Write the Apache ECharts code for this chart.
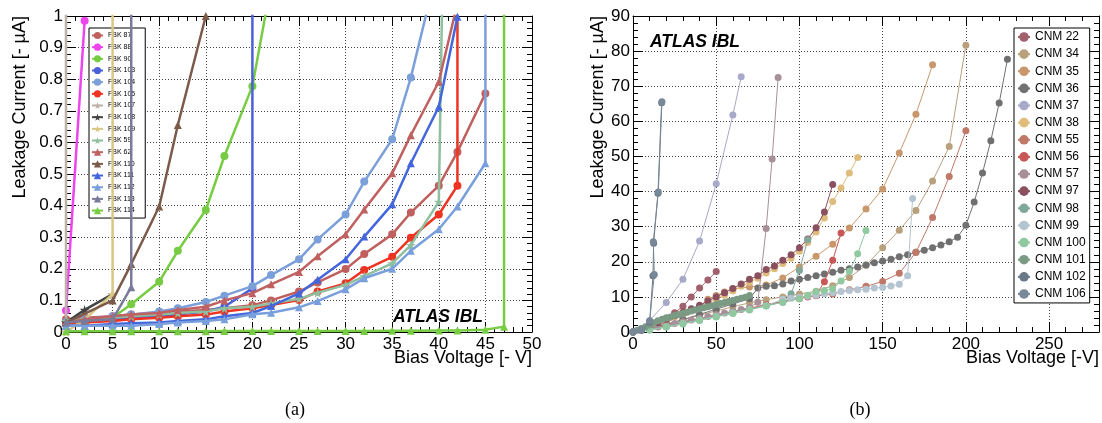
<!DOCTYPE html>
<html><head><meta charset="utf-8">
<script src="https://cdn.jsdelivr.net/npm/echarts@6/dist/echarts.min.js"></script>
<style>html,body{margin:0;padding:0;background:#fff}#c{width:1102px;height:423px}</style>
</head><body><div id="c"></div>
<script>
// ---------- Panel (a): FBK sensors, [bias V, leakage µA] ----------
const fbk87  = [[0,0.04],[2,0.045],[5,0.05],[7,0.055],[10,0.06],[12,0.065],[15,0.07],[17,0.075],[20,0.085],[22,0.1],[25,0.128],[27,0.157],[30,0.199],[32,0.247],[35,0.309],[37,0.378],[40,0.463],[42,0.57],[45,0.755]];
const fbk88  = [[0,0.068],[2,0.985]];
const fbk90  = [[0,0.03],[2,0.035],[5,0.045],[7,0.088],[10,0.159],[12,0.257],[15,0.386],[17,0.557],[20,0.778],[22,1.1]];
const fbk103 = [[0,0.03],[2,0.035],[5,0.04],[7,0.045],[10,0.05],[12,0.055],[15,0.065],[17,0.08],[20,0.138],[20,1.3]];
const fbk104 = [[0,0.03],[2,0.04],[5,0.05],[7,0.055],[10,0.065],[12,0.075],[15,0.095],[17,0.115],[20,0.145],[22,0.18],[25,0.23],[27,0.293],[30,0.372],[32,0.476],[35,0.61],[37,0.805],[40,1.17]];
const fbk105 = [[0,0.025],[2,0.03],[5,0.035],[7,0.04],[10,0.045],[12,0.05],[15,0.055],[17,0.065],[20,0.075],[22,0.085],[25,0.101],[27,0.128],[30,0.154],[32,0.196],[35,0.238],[37,0.298],[40,0.372],[42,0.463],[42,1.3]];
const fbk107 = [[0,0.02],[0,1.3]];
const fbk108 = [[0,0.03],[2,0.07],[5,0.12]];
const fbk109 = [[0,0.0],[2,0.04],[5,0.12],[5,1.3]];
const fbk59  = [[0,0.035],[2,0.04],[5,0.045],[7,0.05],[10,0.055],[12,0.06],[15,0.065],[17,0.075],[20,0.08],[22,0.09],[25,0.105],[27,0.124],[30,0.149],[32,0.177],[35,0.217],[37,0.275],[40,0.412],[40.5,1.3]];
const fbk62  = [[0,0.03],[2,0.04],[5,0.05],[7,0.055],[10,0.06],[12,0.07],[15,0.08],[17,0.1],[20,0.123],[22,0.151],[25,0.19],[27,0.24],[30,0.309],[32,0.388],[35,0.502],[37,0.623],[40,0.792],[42,1.04]];
const fbk110 = [[0,0.03],[5,0.1],[7,0.215],[10,0.397],[12,0.655],[15,1.0]];
const fbk111 = [[0,0.02],[2,0.02],[5,0.025],[7,0.028],[10,0.03],[12,0.035],[15,0.04],[17,0.05],[20,0.06],[22,0.082],[25,0.122],[27,0.165],[30,0.23],[32,0.302],[35,0.404],[37,0.534],[40,0.713],[42,0.998]];
const fbk112 = [[0,0.02],[2,0.02],[5,0.02],[7,0.02],[10,0.025],[12,0.03],[15,0.035],[17,0.04],[20,0.056],[22,0.061],[25,0.078],[27,0.098],[30,0.135],[32,0.17],[35,0.2],[37,0.257],[40,0.325],[42,0.397],[45,0.534],[45,1.3]];
const fbk113 = [[0,0.03],[2,0.035],[5,0.04],[7,0.142],[7,1.3]];
const fbk114 = [[0,0.002],[2,0.002],[5,0.002],[7,0.002],[10,0.002],[12,0.002],[15,0.002],[17,0.003],[20,0.003],[22,0.003],[25,0.003],[27,0.003],[30,0.003],[32,0.003],[35,0.004],[37,0.004],[40,0.005],[42,0.005],[45,0.007],[47,0.017],[47,1.3]];

// ---------- Panel (b): CNM sensors ----------
const cnm22  = [[0,0],[5,0.7],[10,1.5],[15,2.5],[20,4],[25,5.5],[30,7.3],[35,10],[40,12.5],[45,14.8],[50,17.2]];
const cnm34  = [[0,0],[10,1],[20,2.2],[30,3.5],[40,4.8],[50,6],[60,7.2],[70,8.3],[80,9.2],[90,10],[100,10.8],[110,11.6],[120,13.2],[130,15.5],[140,19],[150,24],[160,29],[170,34.6],[180,43],[190,52.8],[200,81.7]];
const cnm35  = [[0,0],[10,1.2],[20,2.8],[30,4.8],[40,7.2],[45,9.3],[50,10.4],[55,11.4],[60,12.3],[70,12.8],[80,13.4],[90,15.4],[100,18.5],[110,21.6],[120,25],[130,29.6],[140,35],[150,40.7],[160,51],[170,62],[180,76.1]];
const cnm36  = [[0,0],[10,1],[20,2.2],[30,3.5],[40,5],[50,6.5],[60,8],[70,9.5],[75,12.5],[80,13],[85,13.2],[90,13.7],[95,14.5],[100,15],[105,15.5],[110,16],[115,16.5],[120,17],[125,17.6],[130,18],[135,18.5],[140,19.1],[145,19.7],[150,20.2],[155,20.7],[160,21.4],[165,22],[170,22.7],[175,23.3],[180,24],[185,24.8],[190,25.7],[195,27],[200,30.4],[205,37],[210,45.3],[215,54.5],[220,65.2],[225,77.7]];
const cnm37  = [[0,0],[5,1],[10,3.3],[20,8.4],[30,15],[40,25.9],[50,42.2],[60,61.8],[65,72.7]];
const cnm38  = [[0,0],[5,0.8],[10,1.6],[15,2.5],[20,3.4],[25,4.3],[30,5.2],[35,6.2],[40,7.2],[45,8.3],[50,9.4],[55,10.5],[60,11.7],[65,13],[70,14.2],[75,15.3],[80,16.8],[85,18],[90,19.5],[95,21],[100,23],[105,25.5],[110,28.5],[115,32.5],[120,37.2],[125,41],[130,45.3],[135,49.7]];
const cnm55  = [[0,0],[10,0.8],[20,1.8],[30,2.8],[40,3.8],[50,4.8],[60,5.8],[70,6.8],[80,7.8],[90,8.8],[100,9.9],[110,10.3],[120,10.8],[130,12],[140,13],[150,14.4],[160,16.7],[170,22.7],[180,32.6],[190,44.3],[200,57.3]];
const cnm56  = [[0,0],[10,0.7],[20,1.6],[30,2.6],[40,3.6],[50,4.6],[60,5.6],[70,6.6],[80,7.6],[90,8.6],[100,9.5],[105,10],[110,10.5],[115,14.3],[120,20.4],[125,28.2]];
const cnm57  = [[0,0],[5,0.4],[10,0.9],[15,1.4],[20,1.9],[25,2.4],[30,2.9],[35,3.4],[40,3.9],[45,4.4],[50,4.9],[55,5.4],[60,5.9],[65,6.4],[70,6.9],[75,8.5],[80,29.5],[83.6,49.3],[87.2,72.5]];
const cnm97  = [[0,0],[5,0.8],[10,1.8],[15,2.6],[20,3.6],[25,4.6],[30,5.6],[35,6.6],[40,7.6],[45,8.8],[50,10],[55,11.2],[60,12.4],[65,13.7],[70,15],[75,16],[80,17.8],[85,18.8],[90,20.4],[95,22],[100,24],[105,26.5],[110,29.7],[115,34.2],[120,42]];
const cnm98  = [[0,0],[10,0.7],[20,1.5],[30,2.5],[40,3.5],[50,4.5],[60,5.5],[70,6.5],[80,7.5],[90,8.5],[95,10.9],[100,17.5],[105,26.3]];
const cnm99  = [[0,0],[10,0.6],[20,1.4],[30,2.4],[40,3.4],[50,4.4],[60,5.4],[70,6.4],[80,7.5],[90,9.3],[95,9.6],[100,9.9],[105,10.2],[110,10.5],[115,10.9],[120,11.2],[125,11.5],[130,11.8],[135,12],[140,12.2],[145,12.5],[150,12.7],[155,13.1],[160,13.6],[165,16],[168,38]];
const cnm100 = [[0,0],[10,0.6],[20,1.4],[30,2.3],[40,3.3],[50,4.3],[60,5.3],[70,6.3],[80,7.4],[90,8.5],[100,9.5],[105,10.5],[110,11.5],[115,11.8],[120,12.3],[125,14.5],[130,17.3],[135,22.3],[140,28.9]];
const cnm101 = [[0,0],[2.5,0.5],[5,1],[7.5,1.5],[10,2],[12.5,2.6],[15,3.2],[17.5,3.6],[20,4],[22.5,4.3],[25,4.7],[27.5,5],[30,5.3],[32.5,5.6],[35,6],[37.5,6.3],[40,6.6],[42.5,6.9],[45,7.2],[47.5,7.5],[50,7.8],[52.5,8.1],[55,8.4],[57.5,8.7],[60,9],[62.5,9.3],[65,9.6],[67.5,9.9],[70,10.4]];
const cnm102 = [[0,0],[5,0.5],[10,2.8],[12,16],[12.4,25.3],[15,39.5],[17.2,65.3]];
const cnm106 = [[0,0],[5,0.6],[10,3.1],[12.8,16.4],[12.2,25.7],[15.2,39.9],[17.4,65.6]];

// tick labels / names
const leftXTicks = [0,5,10,15,20,25,30,35,40,45,50];
const rightXTicks = [0,50,100,150,200,250];
const fbkNames = ['FBK 87','FBK 88','FBK 90','FBK 103','FBK 104','FBK 105','FBK 107','FBK 108','FBK 109','FBK 59','FBK 62','FBK 110','FBK 111','FBK 112','FBK 113','FBK 114'];
const cnmNames = ['CNM 22','CNM 34','CNM 35','CNM 36','CNM 37','CNM 38','CNM 55','CNM 56','CNM 57','CNM 97','CNM 98','CNM 99','CNM 100','CNM 101','CNM 102','CNM 106'];

const STAR = 'path://M50,0 L61,35 L98,35 L68,57 L79,91 L50,70 L21,91 L32,57 L2,35 L39,35 Z';
const FONT = 'Liberation Sans';

const fbkDefs = [
  [fbk87,'#c0605e','circle'],[fbk88,'#ee44ee','circle'],[fbk90,'#77cc44','circle'],[fbk103,'#4a5fd9','circle'],
  [fbk104,'#7b9fd9','circle'],[fbk105,'#ee3322','circle'],[fbk107,'#bcb2a8',STAR],[fbk108,'#444444',STAR],
  [fbk109,'#d8c884',STAR],[fbk59,'#8fbf9f',STAR],[fbk62,'#c06060','triangle'],[fbk110,'#7b5a4a','triangle'],
  [fbk111,'#4466dd','triangle'],[fbk112,'#7a9fdd','triangle'],[fbk113,'#7a7a9a','triangle'],[fbk114,'#77cc44','triangle']
];
const cnmDefs = [
  [cnm22,'#a0606c'],[cnm34,'#b8a07c'],[cnm35,'#c8986c'],[cnm36,'#707070'],[cnm37,'#a8a8c8'],[cnm38,'#e0bc7c'],
  [cnm55,'#c07868'],[cnm56,'#c85858'],[cnm57,'#a89098'],[cnm97,'#8a5060'],[cnm98,'#80a898'],[cnm99,'#b4c4d0'],
  [cnm100,'#90c8a0'],[cnm101,'#7a9a84'],[cnm102,'#6a7888'],[cnm106,'#788898']
];

const series = [];
fbkDefs.forEach((d,i)=>{
  series.push({name:fbkNames[i], type:'line', xAxisIndex:0, yAxisIndex:0, data:d[0],
    symbol:d[2], symbolSize: d[2]===STAR?10:8, showAllSymbol:true,
    lineStyle:{color:d[1], width:2.5}, itemStyle:{color:d[1]}, clip:true, z:2+i});
});
cnmDefs.forEach((d,i)=>{
  series.push({name:cnmNames[i], type:'line', xAxisIndex:2, yAxisIndex:2, data:d[0],
    symbol:'circle', symbolSize:7, showAllSymbol:true,
    lineStyle:{color:d[1], width:1}, itemStyle:{color:d[1]}, clip:true, z:2+i});
});

function xAx(grid, max, interval, pos, labels, ticks){
  return {gridIndex:grid, type:'value', min:0, max:max, interval:interval, position:pos,
    axisLine:{show:true, onZero:false, lineStyle:{color:'#000', width:1}},
    axisTick:{show:true, inside:true, length:10, lineStyle:{color:'#000'}},
    minorTick:{show:true, splitNumber:5, length:5, lineStyle:{color:'#000'}},
    splitLine:{show:labels, lineStyle:{type:[1,2], color:'#444', width:1}},
    axisLabel:{show:labels, fontSize:17, color:'#000', fontFamily:FONT, margin:4,
      formatter: v => (ticks.indexOf(v) >= 0 ? String(v) : '')}};
}
function yAx(grid, max, interval, pos, labels){
  return {gridIndex:grid, type:'value', min:0, max:max, interval:interval, position:pos,
    axisLine:{show:true, onZero:false, lineStyle:{color:'#000', width:1}},
    axisTick:{show:true, inside:true, length:10, lineStyle:{color:'#000'}},
    minorTick:{show:true, splitNumber:5, length:5, lineStyle:{color:'#000'}},
    splitLine:{show:labels, lineStyle:{type:[1,2], color:'#444', width:1}},
    axisLabel:{show:labels, fontSize:17, color:'#000', fontFamily:FONT, margin:3,
      formatter: v => String(Math.round(v*1000)/1000)}};
}

const chart = echarts.init(document.getElementById('c'), null, {renderer:'canvas'});
chart.setOption({
  animation:false,
  backgroundColor:'#fff',
  grid:[
    {left:66, top:16, width:466, height:316},
    {left:633, top:16, width:466, height:316}
  ],
  xAxis:[
    xAx(0,50,5,'bottom',true,leftXTicks), xAx(0,50,5,'top',false,leftXTicks),
    xAx(1,280,50,'bottom',true,rightXTicks), xAx(1,280,50,'top',false,rightXTicks)
  ],
  yAxis:[
    yAx(0,1,0.1,'left',true), yAx(0,1,0.1,'right',false),
    yAx(1,90,10,'left',true), yAx(1,90,10,'right',false)
  ],
  legend:[
    {data:fbkNames, orient:'vertical', left:89, top:28, selectedMode:false,
     itemWidth:11, itemHeight:9, itemGap:2.67, padding:[3,10,3,2],
     backgroundColor:'#fff', borderColor:'#000', borderWidth:1,
     textStyle:{fontSize:7, color:'#000', fontFamily:FONT, lineHeight:9}},
    {data:cnmNames, orient:'vertical', left:1014, top:28, selectedMode:false,
     itemWidth:12, itemHeight:12, itemGap:5.13, padding:[3,4,3,3],
     backgroundColor:'#fff', borderColor:'#000', borderWidth:1,
     textStyle:{fontSize:12, color:'#000', fontFamily:FONT, lineHeight:12}}
  ],
  graphic:[
    {type:'text', x:20, y:16, rotation:Math.PI/2, style:{text:'Leakage Current [- µA]', font:'18px "Liberation Sans"', fill:'#000', align:'right', verticalAlign:'middle'}},
    {type:'text', x:598, y:16, rotation:Math.PI/2, style:{text:'Leakage Current [- µA]', font:'18px "Liberation Sans"', fill:'#000', align:'right', verticalAlign:'middle'}},
    {type:'text', x:532, y:358, style:{text:'Bias Voltage [- V]', font:'18px "Liberation Sans"', fill:'#000', align:'right', verticalAlign:'middle'}},
    {type:'text', x:1099, y:358, style:{text:'Bias Voltage [-V]', font:'18px "Liberation Sans"', fill:'#000', align:'right', verticalAlign:'middle'}},
    {type:'text', x:438, y:317, z:100, style:{text:'ATLAS IBL', font:'italic bold 17.5px "Liberation Sans"', fill:'#000', align:'center', verticalAlign:'middle'}},
    {type:'text', x:695, y:42, z:100, style:{text:'ATLAS IBL', font:'italic bold 17.5px "Liberation Sans"', fill:'#000', align:'center', verticalAlign:'middle'}},
    {type:'text', x:295, y:410, style:{text:'(a)', font:'18px "Liberation Serif"', fill:'#000', align:'center', verticalAlign:'middle'}},
    {type:'text', x:860, y:410, style:{text:'(b)', font:'18px "Liberation Serif"', fill:'#000', align:'center', verticalAlign:'middle'}}
  ],
  series:series
});
</script>
</body></html>
